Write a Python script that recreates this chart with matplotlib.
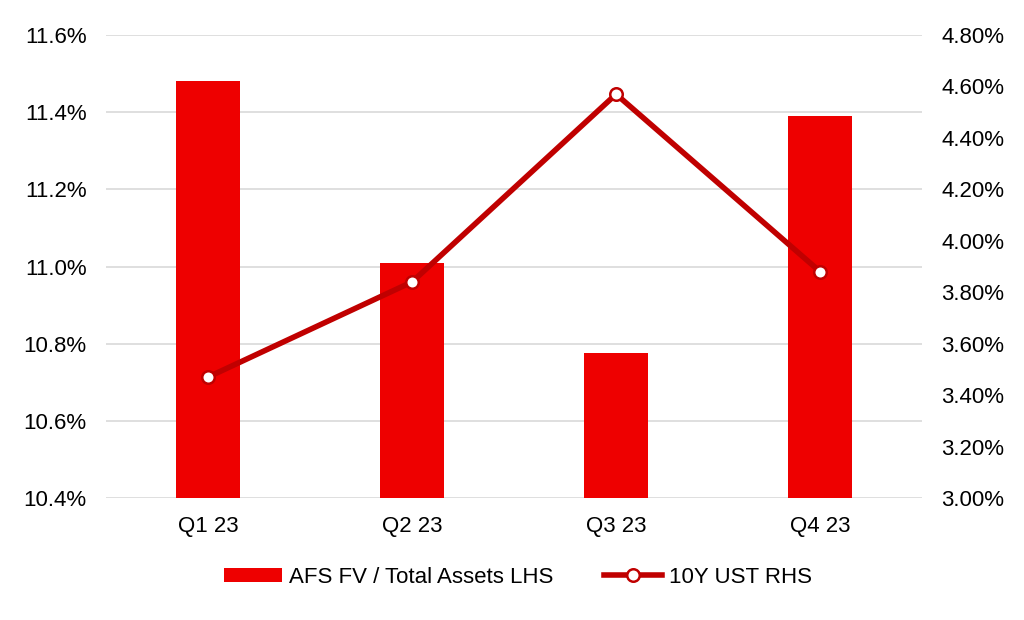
import matplotlib
matplotlib.use("Agg")
import matplotlib.pyplot as plt
from matplotlib.ticker import FuncFormatter, MultipleLocator

categories = ["Q1 23", "Q2 23", "Q3 23", "Q4 23"]
afs_ratio = [11.48, 11.01, 10.776, 11.39]
ust_10y = [3.47, 3.84, 4.57, 3.88]

plt.rcParams['font.family'] = ['Liberation Sans', 'DejaVu Sans']
plt.rcParams['text.kerning_factor'] = 0

fig = plt.figure(figsize=(10.24, 6.2), dpi=100)
ax = fig.add_axes([0.1035, 0.1968, 0.797, 0.7467])
ax2 = ax.twinx()

x = list(range(len(categories)))
bars = ax.bar(x, afs_ratio, width=0.31, color="#EE0000", label="AFS FV / Total Assets LHS", zorder=2)
ax.set_ylim(10.4, 11.6)
ax.set_xlim(-0.5, 3.5)
ax.yaxis.set_major_locator(MultipleLocator(0.2))
ax.yaxis.set_major_formatter(FuncFormatter(lambda v, p: f"{v:.1f}%"))
ax.grid(axis="y", color="#D9D9D9", linewidth=1.2, zorder=0)
ax.set_axisbelow(True)
ax.set_xticks(x)
ax.set_xticklabels(categories)

line, = ax2.plot(x, ust_10y, color="#C00000", linewidth=4, marker="o", markersize=9,
                 markerfacecolor="white", markeredgecolor="#C00000", markeredgewidth=1.8,
                 label="10Y UST RHS", zorder=3)
ax2.set_ylim(3.0, 4.8)
ax2.yaxis.set_major_locator(MultipleLocator(0.2))
ax2.yaxis.set_major_formatter(FuncFormatter(lambda v, p: f"{v:.2f}%"))

for a in (ax, ax2):
    for s in a.spines.values():
        s.set_visible(False)
    a.tick_params(length=0, labelsize=16, colors="#000000")
ax.tick_params(axis="y", pad=14)
ax2.tick_params(axis="y", pad=14)
ax.tick_params(axis="x", pad=13)

fig.legend(handles=[bars, line], loc="center", bbox_to_anchor=(0.506, 0.069), ncol=2,
           frameon=False, fontsize=16, handlelength=2.6, handleheight=0.55,
           columnspacing=2.3, handletextpad=0.3)

fig.savefig("out.png", dpi=100)
